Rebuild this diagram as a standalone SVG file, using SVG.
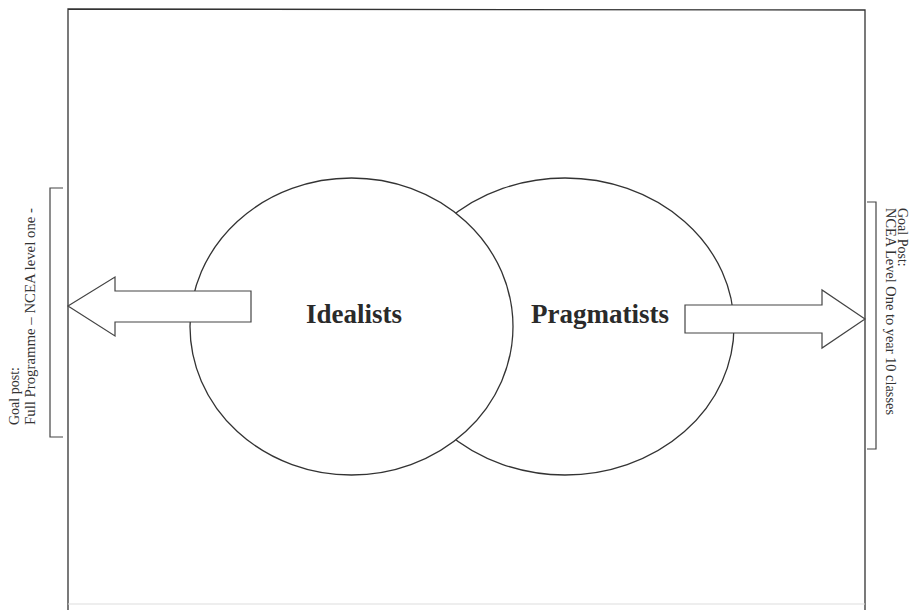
<svg xmlns="http://www.w3.org/2000/svg" width="910" height="610" viewBox="0 0 910 610">
<style>
.frame{fill:none;stroke:#333;stroke-width:1.3}
.node{fill:#fff;stroke:#333;stroke-width:1.3}
.arrow{fill:#fff;stroke:#444;stroke-width:1.2;stroke-linejoin:miter}
.bracket{fill:none;stroke:#444;stroke-width:1.2}
.label{font-family:"Liberation Serif","Times New Roman",serif;font-weight:bold;font-size:27px;fill:#2a2a2a;text-anchor:middle}
.small{font-family:"Liberation Serif","Times New Roman",serif;font-size:14px;fill:#333}
</style>
<rect width="910" height="610" fill="#fff"/>
<g id="frame">
<path class="frame" d="M68,610 L68,9 L865,10 L865,610"/>
<line x1="68" y1="604" x2="865" y2="604" stroke="#ddd" stroke-width="1.2"/>
</g>
<g id="pragmatists">
<ellipse class="node" cx="565" cy="326.5" rx="169" ry="148.5"/>
<text class="label" x="600" y="323">Pragmatists</text>
</g>
<g id="idealists">
<ellipse class="node" cx="351.5" cy="326.5" rx="161.5" ry="148.5"/>
<text class="label" x="354" y="323">Idealists</text>
</g>
<g id="connectors">
<polygon class="arrow" points="68,306 115,277 115,291 251,291 251,322 115,322 115,336"/>
<polygon class="arrow" points="865,319 822,290 822,305 685,305 685,333 822,333 822,348"/>
</g>
<g id="goal-left">
<path class="bracket" d="M63,188 L50,188 L50,437 L63,437"/>
<text class="small" transform="translate(19,425) rotate(-90)">Goal post:</text>
<text class="small" transform="translate(35,425) rotate(-90)" textLength="217" lengthAdjust="spacingAndGlyphs">Full Programme – NCEA level one -</text>
</g>
<g id="goal-right">
<path class="bracket" d="M867,202 L876,202 L876,449 L867,449"/>
<text class="small" transform="translate(886,208) rotate(90)" textLength="207" lengthAdjust="spacingAndGlyphs">NCEA Level One to year 10 classes</text>
<text class="small" transform="translate(898,208) rotate(90)">Goal Post:</text>
</g>
</svg>
